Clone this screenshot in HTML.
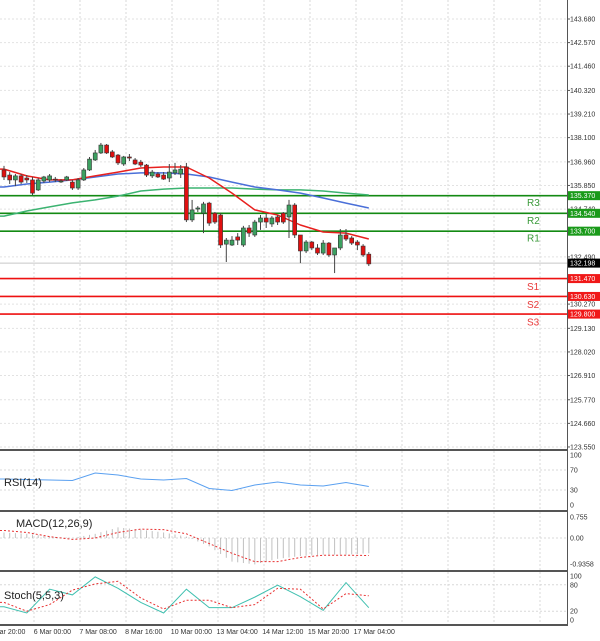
<!DOCTYPE html>
<html><head><meta charset="utf-8">
<style>
html,body{margin:0;padding:0;background:#fff;}
svg{display:block;font-family:"Liberation Sans",sans-serif;}
</style></head>
<body>
<svg id="c" width="600" height="641" viewBox="0 0 600 641"></svg>
<script>
// candle data (prices)
const opens  =[136.58,136.34,136.11,136.30,136.20,136.11,135.64,136.06,136.11,136.15,136.06,136.11,136.01,135.73,136.11,136.58,137.05,137.38,137.75,137.43,137.28,136.86,137.19,137.05,136.95,136.81,136.30,136.39,136.34,136.20,136.44,136.39,136.72,134.23,134.74,134.55,135.02,134.55,134.46,133.09,133.05,133.43,133.05,133.85,133.52,134.13,134.32,134.04,134.37,134.55,134.37,134.93,133.52,132.77,133.19,132.91,132.67,133.14,132.58,132.91,133.52,133.38,133.19,133.00,132.62];
const closes =[136.25,136.11,136.30,136.01,136.11,135.49,136.11,136.25,136.30,136.11,136.06,136.25,135.73,136.11,136.58,137.09,137.38,137.75,137.38,137.19,136.91,137.19,137.14,136.86,136.81,136.34,136.48,136.25,136.15,136.48,136.58,136.62,134.23,134.70,134.79,134.98,134.08,134.13,133.05,133.28,133.28,133.28,133.85,133.61,134.13,134.32,134.13,134.32,134.13,134.13,134.93,133.52,132.77,133.19,132.91,132.67,133.14,132.58,132.91,133.52,133.33,133.14,133.05,132.58,132.16];
const highs  =[136.77,136.48,136.39,136.39,136.34,136.25,136.20,136.30,136.39,136.25,136.15,136.30,136.11,136.20,136.67,137.19,137.52,137.85,137.80,137.52,137.33,137.24,137.33,137.14,137.05,136.86,136.58,136.48,136.48,136.86,136.91,136.81,136.91,135.17,134.88,135.08,135.08,134.60,134.55,133.38,133.47,133.61,133.95,133.99,134.23,134.46,134.51,134.41,134.46,134.60,135.17,135.02,133.38,133.28,133.24,133.09,133.28,133.19,132.86,133.80,133.80,133.47,133.28,133.09,132.72];
const lows   =[136.11,135.92,135.82,135.92,135.97,135.40,135.59,135.97,136.01,136.01,135.97,136.06,135.64,135.64,136.06,136.53,137.00,137.33,137.33,137.14,136.81,136.77,137.00,136.81,136.72,136.25,136.20,136.20,136.11,136.01,136.34,136.20,134.13,134.13,134.60,133.61,133.95,134.04,132.91,132.25,133.00,133.05,132.96,133.43,133.43,133.76,133.85,133.90,133.99,134.04,133.38,133.38,132.20,132.67,132.81,132.58,132.58,132.49,131.73,132.81,133.24,133.05,132.81,132.49,132.06];
const levelNames=["R3","R2","R1","S1","S2","S3"];
const levelValues=[135.37,134.54,133.70,131.47,130.63,129.80];
const priceTicks=[143.68,142.57,141.46,140.32,139.21,138.10,136.96,135.85,134.74,132.49,130.27,129.13,128.02,126.91,125.77,124.66,123.55];
const lastPrice=132.198;
// moving averages sampled every 4 candles
const oscIdx=[0,4,8,12,16,20,24,28,32,36,40,44,48,52,56,60,64];
const maFast=[136.62,136.30,136.11,136.11,136.30,136.48,136.67,136.72,136.72,136.20,135.49,134.70,134.46,133.99,133.66,133.61,133.33];
const maMid=[135.78,135.92,136.01,136.11,136.25,136.39,136.44,136.44,136.39,136.25,136.01,135.78,135.64,135.49,135.26,135.02,134.79];
const maSlow=[134.41,134.65,134.84,135.03,135.17,135.35,135.59,135.68,135.73,135.73,135.73,135.68,135.64,135.64,135.59,135.49,135.40];
// oscillators
const rsiVals=[52,51,50,49,64,60,52,50,53,33,29,40,46,40,38,45,37];
const macdHist=[0.2,0.15,0.05,0.0,0.15,0.38,0.3,0.2,0.05,-0.3,-0.85,-0.95,-0.75,-0.65,-0.6,-0.6,-0.55];
const macdSignal=[0.27,0.2,0.05,-0.05,0.0,0.2,0.32,0.3,0.15,-0.2,-0.55,-0.85,-0.85,-0.7,-0.62,-0.62,-0.63];
const stochMain=[30,16,70,57,98,72,40,16,70,28,28,52,79,53,22,85,28];
const stochSig=[40,20,35,68,82,88,50,25,45,45,28,35,72,70,25,60,55];
const timeLabels=["5 Mar 20:00","6 Mar 00:00","7 Mar 08:00","8 Mar 16:00","10 Mar 00:00","13 Mar 04:00","14 Mar 12:00","15 Mar 20:00","17 Mar 04:00"];

const NS="http://www.w3.org/2000/svg";
const svg=document.getElementById('c');
function mk(tag,attrs,parent){const e=document.createElementNS(NS,tag);for(const k in attrs)e.setAttribute(k,attrs[k]);(parent||svg).appendChild(e);return e;}
const PLOT_R=567;
const xOf=i=>4+i*5.7;
const yP=p=>19+(143.68-p)*21.26;
const yRSI=v=>505-v*0.5;
const yMACD=v=>538-v*27.8;
const yST=v=>620-v*0.44;

// grid
const grid=mk('g',{});


for(let k=0;k<12;k++){const gx=34+k*46;
 [[0,449],[451,510],[512,570],[572,624]].forEach(r=>mk('line',{x1:gx,x2:gx,y1:r[0],y2:r[1],stroke:'#d8d8d8','stroke-dasharray':'2,2','stroke-width':1},grid));}
priceTicks.forEach(t=>mk('line',{x1:0,x2:PLOT_R,y1:yP(t),y2:yP(t),stroke:'#e2e2e2','stroke-dasharray':'2,2'},grid));
[70,30].forEach(v=>mk('line',{x1:0,x2:PLOT_R,y1:yRSI(v),y2:yRSI(v),stroke:'#d8d8d8','stroke-dasharray':'2,2'},grid));
mk('line',{x1:0,x2:PLOT_R,y1:yMACD(0),y2:yMACD(0),stroke:'#d8d8d8','stroke-dasharray':'2,2'},grid);
[80,20].forEach(v=>mk('line',{x1:0,x2:PLOT_R,y1:yST(v),y2:yST(v),stroke:'#d8d8d8','stroke-dasharray':'2,2'},grid));

const lp=mk('line',{x1:0,x2:PLOT_R,y1:yP(lastPrice),y2:yP(lastPrice),stroke:'#c8c8c8'});



levelValues.forEach((v,i)=>{
 const col=i<3?'#138a13':'#ee1111';
 const ln=mk('line',{x1:0,x2:PLOT_R,y1:yP(v),y2:yP(v),stroke:col,'stroke-width':1.6});
 
 
 const t=mk('text',{x:527,y:yP(v)+(i<3?10.5:11.5),'font-size':10,fill:i<3?'#3a9a3a':'#e83a3a'});
 t.textContent=levelNames[i];
 
 
});

// moving averages
[[maSlow,'#3cb371','moving-average-slow'],[maMid,'#4a6fd8','moving-average-mid'],[maFast,'#e8201e','moving-average-fast']].forEach(m=>{
 const arr=m[0];
 const pts='0,'+yP(arr[0]).toFixed(1)+' '+oscIdx.map((k,j)=>xOf(k).toFixed(1)+','+yP(arr[j]).toFixed(1)).join(' ');
 const pl=mk('polyline',{points:pts,fill:'none',stroke:m[1],'stroke-width':1.5,'stroke-linejoin':'round'});
 
 
});

// candles
const cg=mk('g',{});


opens.forEach((o,i)=>{
 const c=closes[i],x=xOf(i);
 mk('line',{x1:x,x2:x,y1:yP(highs[i]),y2:yP(lows[i]),stroke:'#444'},cg);
 const top=Math.min(yP(o),yP(c)),h=Math.max(1,Math.abs(yP(o)-yP(c)));
 const r=mk('rect',{x:x-2,y:top,width:4,height:h,fill:c>=o?'#3ca060':'#e01010',stroke:'#333','stroke-width':0.6},cg);
 
 
});

// RSI
const rp=mk('polyline',{points:'0,'+yRSI(rsiVals[0])+' '+oscIdx.map((k,j)=>xOf(k)+','+yRSI(rsiVals[j])).join(' '),fill:'none',stroke:'#5aa0f0','stroke-width':1});


function interp(arr,i){const f=i/4,j=Math.min(Math.floor(f),arr.length-2),t=f-j;return arr[j]*(1-t)+arr[j+1]*t;}
for(let i=0;i<closes.length;i++){
 const v=interp(macdHist,i);
 const b=mk('line',{x1:xOf(i),x2:xOf(i),y1:yMACD(0),y2:yMACD(v),stroke:'#c0c0c0','stroke-width':1});
 
 
}
const ms=mk('polyline',{points:'0,'+yMACD(macdSignal[0])+' '+oscIdx.map((k,j)=>xOf(k)+','+yMACD(macdSignal[j])).join(' '),fill:'none',stroke:'#e83030','stroke-dasharray':'2,2','stroke-width':1});


const sm=mk('polyline',{points:'0,'+yST(stochMain[0])+' '+oscIdx.map((k,j)=>xOf(k)+','+yST(stochMain[j])).join(' '),fill:'none',stroke:'#40c0b0','stroke-width':1});


const ss=mk('polyline',{points:'0,'+yST(stochSig[0])+' '+oscIdx.map((k,j)=>xOf(k)+','+yST(stochSig[j])).join(' '),fill:'none',stroke:'#e83030','stroke-dasharray':'2,2','stroke-width':1});



[[449,'main-panel-bottom'],[510,'rsi-panel-bottom'],[570,'macd-panel-bottom'],[624,'stoch-panel-bottom']].forEach(s=>{
 const l=mk('rect',{x:0,y:s[0],width:PLOT_R,height:2,fill:'#555'});
 
 
});
const ax=mk('line',{x1:PLOT_R+0.5,x2:PLOT_R+0.5,y1:0,y2:626,stroke:'#555'});



priceTicks.forEach(t=>{
 mk('line',{x1:PLOT_R,x2:PLOT_R+3,y1:yP(t),y2:yP(t),stroke:'#555'});
 const tx=mk('text',{x:570,y:yP(t)+2.5,'font-size':7,fill:'#333'});
 tx.textContent=t.toFixed(3);
 
 
});
levelValues.forEach((v,i)=>{
 const bx=mk('rect',{x:568,y:yP(v)-4.5,width:32,height:9,fill:i<3?'#1a9a1a':'#f01818'});
 
 
 const tx=mk('text',{x:570,y:yP(v)+2.5,'font-size':7,fill:'#fff'});
 tx.textContent=v.toFixed(3);
 
 
});
const lb=mk('rect',{x:568,y:yP(lastPrice)-4.5,width:32,height:9,fill:'#000'});


const lt=mk('text',{x:570,y:yP(lastPrice)+2.5,'font-size':7,fill:'#fff'});
lt.textContent=lastPrice.toFixed(3);



function alab(txt,y,name){const t=mk('text',{x:570,y:y+2.5,'font-size':7,fill:'#333'});t.textContent=txt;
 
 }
[[100,yRSI(100)],[70,yRSI(70)],[30,yRSI(30)],[0,yRSI(0)]].forEach(a=>alab(String(a[0]),a[1],'rsi-tick-label'));
alab('0.755',yMACD(0.755),'macd-tick-label');alab('0.00',yMACD(0),'macd-tick-label');alab('-0.9358',yMACD(-0.9358),'macd-tick-label');
[[100,yST(100)],[80,yST(80)],[20,yST(20)],[0,yST(0)]].forEach(a=>alab(String(a[0]),a[1],'stoch-tick-label'));

function ptitle(txt,x,y,name){const t=mk('text',{x:x,y:y,'font-size':11,fill:'#222'});t.textContent=txt;
 
 }
ptitle('RSI(14)',4,486,'rsi-title');
ptitle('MACD(12,26,9)',16,527,'macd-title');
ptitle('Stoch(5,5,3)',4,599,'stoch-title');

timeLabels.forEach((s,k)=>{
 const t=mk('text',{x:-12+k*45.7,y:634,'font-size':7,fill:'#333'});
 t.textContent=s;
 
 
});
</script>
</body></html>
